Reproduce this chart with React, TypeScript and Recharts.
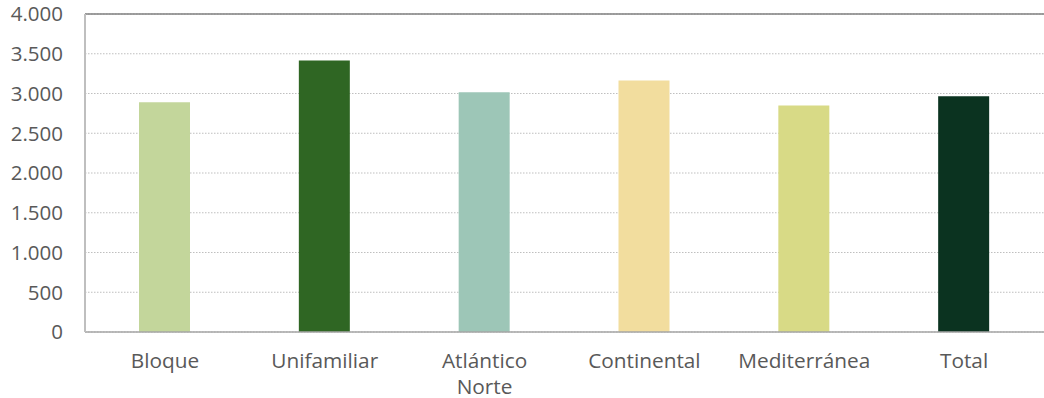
import React from "react";
import { BarChart, Bar, XAxis, YAxis, CartesianGrid, ReferenceLine, Cell } from "recharts";

const categories = ["Bloque", "Unifamiliar", "Atlántico Norte", "Continental", "Mediterránea", "Total"];
const values = [2890, 3415, 3015, 3165, 2850, 2965];
const colors = ["#C3D69B", "#2F6623", "#9DC6B7", "#F2DD9E", "#D8DA86", "#0B3320"];
const yTicks = [0, 500, 1000, 1500, 2000, 2500, 3000, 3500, 4000];
const labelLines: Record<string, string[]> = {
  "Atlántico Norte": ["Atlántico", "Norte"],
};

const data = categories.map((c, i) => ({ name: c, value: values[i] }));

const FONT = "'Open Sans', sans-serif";
const TEXT = "#595959";

const fmt = (v: number) => v.toLocaleString("de-DE");

const XTick = (props: any) => {
  const { x, y, payload } = props;
  const lines = labelLines[payload.value] || [payload.value];
  return (
    <g>
      {lines.map((l: string, i: number) => (
        <text
          key={i}
          x={x}
          y={y + 34 + i * 26}
          textAnchor="middle"
          fill={TEXT}
          fontSize={20.8}
          fontFamily={FONT}
        >
          {l}
        </text>
      ))}
    </g>
  );
};

export default function App() {
  return (
    <div style={{ position: "absolute", left: 0, top: 0, width: 1044, height: 398, background: "#fff" }}>
      <style>{"html,body{margin:0;padding:0;overflow:hidden;}"}</style>
      <BarChart
        width={1044}
        height={398}
        data={data}
        margin={{ top: 14, right: 0, left: 0, bottom: 0 }}
        barSize={51}
      >
        <CartesianGrid vertical={false} stroke="#bfbfbf" strokeDasharray="1.5 1.5" />
        <XAxis
          dataKey="name"
          height={66}
          tickLine={false}
          tickSize={0}
          tick={<XTick />}
          interval={0}
          axisLine={{ stroke: "#a6a6a6", strokeWidth: 1.5 }}
        />
        <YAxis
          width={85}
          domain={[0, 4000]}
          ticks={yTicks}
          tickFormatter={fmt}
          tickLine={false}
          tickSize={0}
          tickMargin={22}
          axisLine={{ stroke: "#bfbfbf", strokeWidth: 2 }}
          tick={{ fill: TEXT, fontSize: 20.5, fontFamily: FONT }}
        />
        <ReferenceLine y={4000} stroke="#808080" strokeWidth={1.5} />
        <Bar dataKey="value" isAnimationActive={false}>
          {data.map((d, i) => (
            <Cell key={d.name} fill={colors[i]} />
          ))}
        </Bar>
      </BarChart>
    </div>
  );
}
